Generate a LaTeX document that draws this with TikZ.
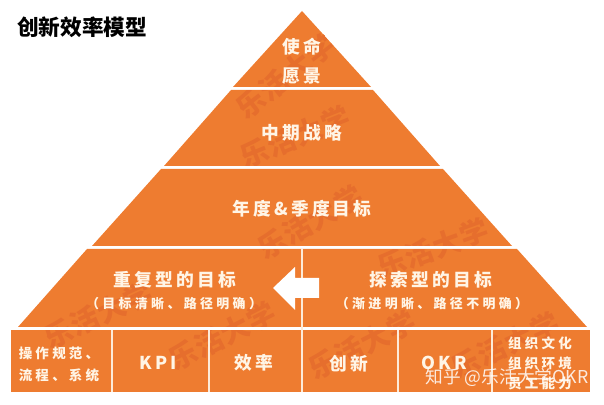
\documentclass[tikz,border=0pt]{standalone}
\usepackage{fontspec}
\setmainfont{Noto Sans CJK SC}
\usepackage{color}

\definecolor{bandorange}{HTML}{EE7C30}
\definecolor{markorange}{HTML}{E66E2D}
\definecolor{creamline}{HTML}{FDEBD8}
\definecolor{creamtext}{HTML}{FFF5E6}

\tikzset{
  band/.style={fill=bandorange},
  seam/.style={draw=creamline,line width=0.9pt},
  bigtext/.style={text=creamtext,font=\fontsize{12.6}{14}\bfseries\addfontfeature{LetterSpace=18}},
  subtext/.style={text=creamtext,font=\fontsize{9.2}{10}\bfseries\addfontfeature{LetterSpace=26}},
  celltext/.style={text=creamtext,font=\fontsize{9.6}{10}\bfseries\addfontfeature{LetterSpace=24}},
  stamp/.style={text=markorange,font=\fontsize{20}{22}\bfseries\addfontfeature{LetterSpace=4}}
}

\begin{document}
\begin{tikzpicture}[x=0.025cm,y=-0.025cm]
    \useasboundingbox (0,0) rectangle (604,405);

    % pyramid bands
    \fill[band] (302,11) -- (371,87) -- (233,87) -- cycle;
    \fill[band] (231,90) -- (373,90) -- (440,166) -- (164,166) -- cycle;
    \fill[band] (161,169) -- (443,169) -- (512,246) -- (92,246) -- cycle;
    \fill[band] (87,249) -- (517,249) -- (587,327) -- (18,327) -- cycle;
    \fill[band] (11,330) rectangle (590,392);

    % stamps stay inside the bands
    \begin{scope}
        \clip (302,11) -- (371,87) -- (233,87) -- cycle
              (231,90) -- (373,90) -- (440,166) -- (164,166) -- cycle
              (161,169) -- (443,169) -- (512,246) -- (92,246) -- cycle
              (87,249) -- (517,249) -- (587,327) -- (18,327) -- cycle
              (11,330) rectangle (590,392);
        \node[stamp,rotate=38] (stampa) at (285,76) {乐活大学};
        \node[stamp,rotate=22] (stampb) at (295,137) {乐活大学};
        \node[stamp,rotate=30] (stampc) at (310,222) {乐活大学};
        \node[stamp,rotate=20] (stampd) at (433,248) {乐活大学};
        \node[stamp,rotate=25] (stampe) at (98,315) {乐活大学};
        \node[stamp,rotate=27] (stampf) at (222,336) {乐活大学};
        \node[stamp,rotate=27] (stampg) at (362,345) {乐活大学};
        \node[stamp,rotate=25] (stamph) at (505,345) {乐活大学};
    \end{scope}

    % seams
    \draw[seam] (302,249) -- (302,392);
    \draw[seam] (112,330) -- (112,392);
    \draw[seam] (209,330) -- (209,392);
    \draw[seam] (398,330) -- (398,392);
    \draw[seam] (492,330) -- (492,392);

    % arrow
    \fill[white] (273,288) -- (295,267) -- (295,278) -- (319,278) -- (319,298) -- (295,298) -- (295,310) -- cycle;

    \node[font=\fontsize{15.4}{18}\bfseries] (title) at (82,27) {创新效率模型};

    \node[bigtext] (mission) at (302,47) {使命};
    \node[bigtext] (vision) at (302,76) {愿景};
    \node[bigtext] (midterm) at (302,133) {中期战略};
    \node[bigtext] (annual) at (302,209) {年度\&季度目标};

    \node[bigtext] (repeat) at (175,280) {重复型的目标};
    \node[subtext] (repeatsub) at (174,304) {（目标清晰、路径明确）};
    \node[bigtext] (explore) at (431,280) {探索型的目标};
    \node[subtext] (exploresub) at (432,304) {（渐进明晰、路径不明确）};

    \node[celltext] (rulesa) at (59,353) {操作规范、};
    \node[celltext] (rulesb) at (59,375) {流程、系统};
    \node[bigtext] (kpi) at (158,363) {KPI};
    \node[bigtext] (efficiency) at (254,363) {效率};
    \node[bigtext] (innovation) at (349,364) {创新};
    \node[bigtext] (okr) at (444,363) {OKR};
    \node[celltext] (culture) at (540,343) {组织文化};
    \node[celltext] (climate) at (540,363) {组织环境};
    \node[celltext] (ability) at (540,383) {员工能力};

    \node[text=white,opacity=0.85,font=\fontsize{12.6}{15}\selectfont] (credit) at (507,378) {知乎 @乐活大学OKR};
\end{tikzpicture}
\end{document}
